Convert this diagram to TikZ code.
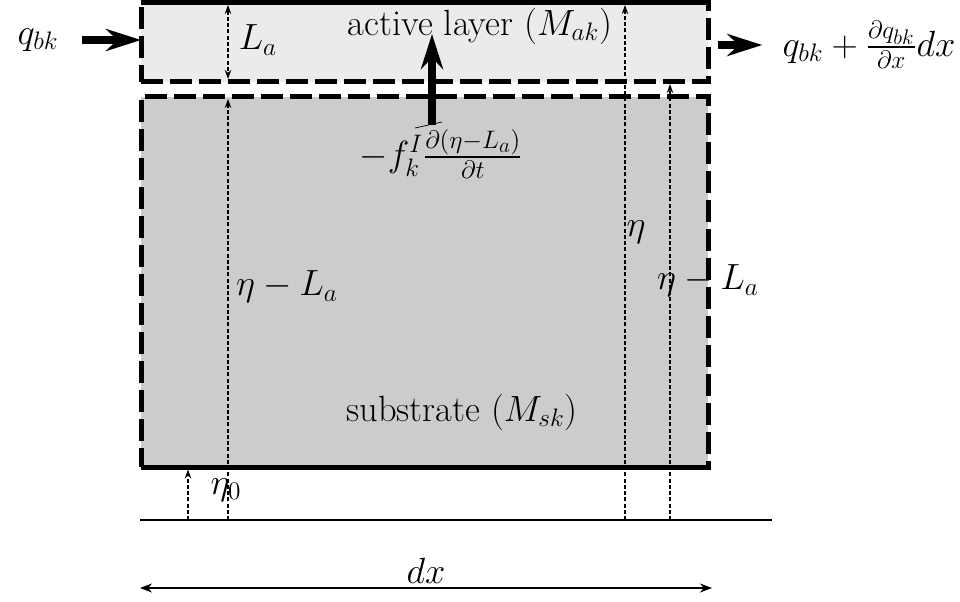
\documentclass[tikz,border=0pt]{standalone}
\usepackage{amsmath,amssymb}
\usepackage{tikz}
\usetikzlibrary{arrows.meta}

\begin{document}
\begin{tikzpicture}[
      x=0.2mm, y=-0.2mm,
      every node/.style={font=\huge},
      layer/.style={draw, line width=1mm, dash pattern=on 4.4mm off 1.4mm, outer sep=0pt, inner sep=0pt, minimum width=113.4mm, anchor=north west},
      edge/.style={line width=1mm},
      dim/.style={line width=0.6pt, dash pattern=on 0.8mm off 0.45mm, -{Stealth[length=1.8mm, width=1.3mm]}},
      flux/.style={line width=1.6mm, -{Stealth[length=7mm, width=4.4mm]}},
      ground/.style={line width=0.35mm},
    ]
    \useasboundingbox (0,0) rectangle (960,601);
    % the two layers
    \node[layer, fill=black!8, minimum height=15.8mm] (active) at (141,2.5) {};
    \node[layer, fill=black!20, minimum height=74.1mm] (sub) at (141,96.5) {};
    \draw[edge] (active.north west) -- (active.north east);
    \draw[edge] (sub.south west) -- (sub.south east);
    \node (actlab) at (480,26) {active layer ($M_{ak}$)};
    \node (sublab) at (462,412) {substrate ($M_{sk}$)};
    % datum line and heights
    \coordinate (gl) at (140,520);
    \coordinate (gr) at (772,520);
    \coordinate (b1) at (188,520);
    \coordinate (b2) at (228,520);
    \coordinate (b3) at (625,520);
    \coordinate (b4) at (670,520);
    \draw[ground] (gl) -- (gr);
    \draw[dim, shorten >=0.5mm] (b1) -- (b1 |- sub.south);
    \draw[dim, shorten >=0.5mm] (b2) -- (b2 |- sub.north);
    \draw[dim, {Stealth[length=1.8mm, width=1.3mm]}-{Stealth[length=1.8mm, width=1.3mm]}, shorten >=0.5mm, shorten <=0.5mm] (b2 |- active.north) -- (b2 |- active.south);
    \draw[dim, shorten >=0.5mm] (b3) -- (b3 |- active.north);
    \draw[dim, shorten >=0.5mm] (b4) -- (b4 |- active.south);
    \node (eta0) at (226,490) {$\eta_0$};
    \node (la) at (258,40) {$L_a$};
    \node (etal1) at (287,287) {$\eta-L_a$};
    \node (eta) at (636,232) {$\eta$};
    \node (etal2) at (708,281) {$\eta-L_a$};
    % fluxes
    \node (qin) at (38,40) {$q_{bk}$};
    \node (qout) at (869,45) {$q_{bk}+\frac{\partial q_{bk}}{\partial x}dx$};
    \draw[flux] ([xshift=3.4mm]qin.east) -- (qin -| active.west);
    \draw[flux, shorten >=2.8mm] ([xshift=2mm]active.east |- qout) -- (qout.west);
    \coordinate (exch) at (432,125);
    \coordinate (exchtop) at (432,34);
    \draw[flux] (exch) -- (exchtop);
    \draw[line width=0.4pt] (exch) +(-17,3) -- +(10,-3);
    \node (fI) at (441,154) {$-f_k^I\frac{\partial(\eta-L_a)}{\partial t}$};
    % width of the cell
    \coordinate (dxl) at (140,588);
    \coordinate (dxr) at (712,588);
    \draw[ground, {Stealth[length=2.4mm, width=1.8mm]}-{Stealth[length=2.4mm, width=1.8mm]}] (dxl) -- node[above, inner sep=2pt] (dx) {$dx$} (dxr);
  \end{tikzpicture}
\end{document}
